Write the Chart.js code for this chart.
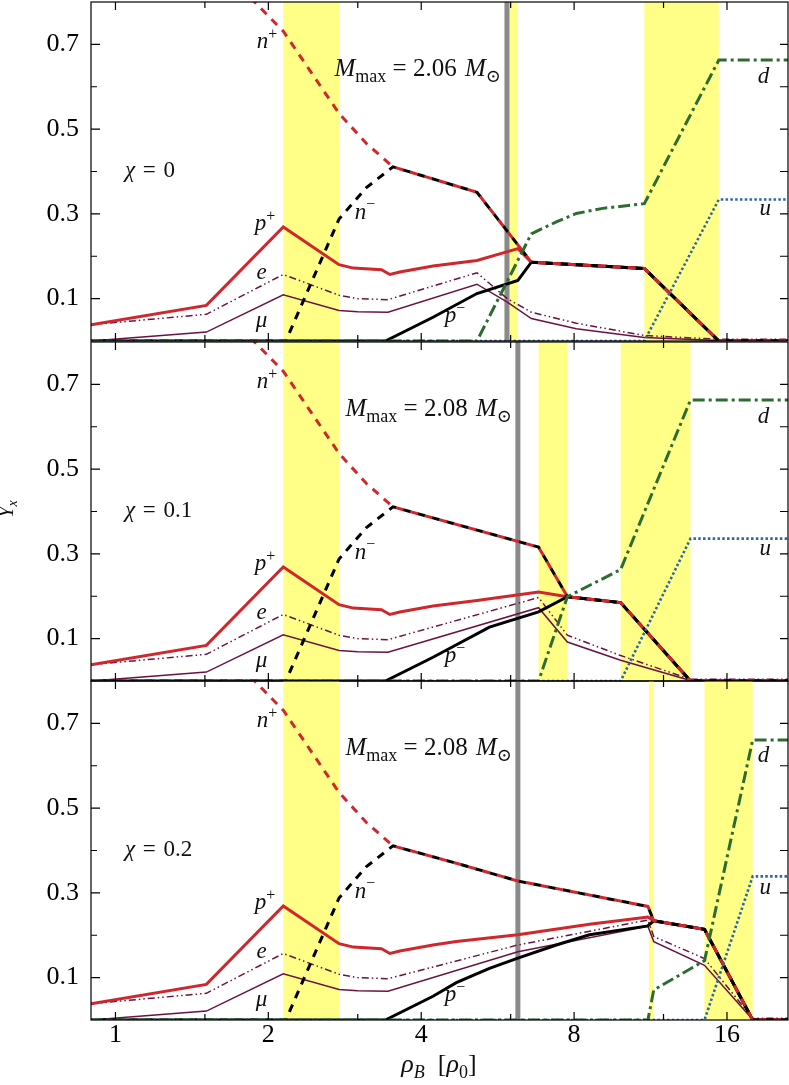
<!DOCTYPE html>
<html>
<head>
<meta charset="utf-8">
<script src="https://cdn.jsdelivr.net/npm/chart.js@4"></script>
<style>
  html, body { margin: 0; padding: 0; background: #fff; }
  #fig { position: relative; width: 789px; height: 1085px; overflow: hidden; }
  #fig canvas { position: absolute; left: 0; }
</style>
</head>
<body>
<div id="fig">
  <canvas id="panel0" width="789" height="344" style="top:0"></canvas>
  <canvas id="panel1" width="789" height="344" style="top:340px"></canvas>
  <canvas id="panel2" width="789" height="406" style="top:679px"></canvas>
</div>
<script>
// ---- axes ----
const rhoMin = 0.895, rhoMax = 21.1;
const xTicks = [1, 1.5, 2, 3, 4, 6, 8, 12, 16];
const xLabels = [1, 2, 4, 8, 16];
const yMin = 0, yMax = 0.8;

// ---- panel info ----
const chiValues = ['0', '0.1', '0.2'];
const mMaxValues = ['2.06', '2.08', '2.08'];
const mMaxRho = [5.90, 6.20, 6.20];
const bands0 = [[2.14, 2.756], [5.93, 6.20], [11.0, 15.42]];
const bands1 = [[2.14, 2.756], [6.81, 7.76], [9.88, 13.56]];
const bands2 = [[2.14, 2.756], [11.23, 11.48], [14.45, 17.98]];

// ---- hadronic part, same for every chi ----  [rho_B, Y_x]
const nPlusLow  = [[0.895, 0.962], [1.51, 0.916], [2.14, 0.731], [2.756, 0.537], [3.12, 0.466], [3.52, 0.411]];
const nMinusLow = [[0.895, 0], [2.165, 0], [2.756, 0.288], [3.12, 0.362], [3.52, 0.411]];
const pPlusLow  = [[0.895, 0.0385], [1.51, 0.084], [2.14, 0.269], [2.756, 0.180], [2.94, 0.172], [3.34, 0.168], [3.47, 0.157], [3.63, 0.163], [4.22, 0.177]];
const pMinusLow = [[0.895, 0], [3.40, 0], [4.22, 0.056]];
const eLow      = [[0.895, 0.0385], [1.51, 0.063], [2.14, 0.157], [2.756, 0.108], [3.0, 0.100], [3.44, 0.0975]];
const muLow     = [[0.895, 0.0], [1.51, 0.021], [2.14, 0.109], [2.756, 0.072], [3.0, 0.069], [3.44, 0.068]];

// ---- chi = 0 ----
const nTail0      = [[5.15, 0.351], [6.59, 0.186], [11.0, 0.171], [15.42, 0], [21.1, 0]];
const pPlusTail0  = [[5.15, 0.190], [6.20, 0.218], [6.59, 0.186], [11.0, 0.171], [15.42, 0], [21.1, 0]];
const pMinusTail0 = [[5.15, 0.112], [6.20, 0.143], [6.59, 0.186], [11.0, 0.171], [15.42, 0], [21.1, 0]];
const eTail0      = [[5.15, 0.161], [5.91, 0.100], [6.59, 0.068], [8.08, 0.042], [11.0, 0.013], [15.42, 0.004], [21.1, 0.004]];
const muTail0     = [[5.15, 0.134], [5.91, 0.092], [6.59, 0.053], [8.08, 0.029], [11.0, 0.008], [15.42, 0.001], [21.1, 0.001]];
const dQuark0     = [[0.895, 0], [5.15, 0], [6.59, 0.253], [7.38, 0.281], [8.08, 0.301], [9.11, 0.313], [11.0, 0.324], [15.42, 0.663], [21.1, 0.663]];
const uQuark0     = [[0.895, 0], [11.0, 0], [15.42, 0.334], [21.1, 0.334]];

// ---- chi = 0.1 ----
const nTail1      = [[6.81, 0.316], [7.76, 0.199], [9.88, 0.185], [13.56, 0], [21.1, 0]];
const pPlusTail1  = [[5.15, 0.190], [6.81, 0.210], [7.76, 0.199], [9.88, 0.185], [13.56, 0], [21.1, 0]];
const pMinusTail1 = [[5.45, 0.127], [6.81, 0.163], [7.76, 0.199], [9.88, 0.185], [13.56, 0], [21.1, 0]];
const eTail1      = [[6.81, 0.197], [7.76, 0.108], [9.88, 0.060], [13.56, 0.004], [21.1, 0.004]];
const muTail1     = [[6.81, 0.173], [7.76, 0.092], [9.88, 0.049], [13.56, 0.001], [21.1, 0.001]];
const dQuark1     = [[0.895, 0], [6.81, 0], [7.76, 0.199], [9.88, 0.263], [13.56, 0.663], [21.1, 0.663]];
const uQuark1     = [[0.895, 0], [9.88, 0], [13.56, 0.336], [21.1, 0.336]];

// ---- chi = 0.2 ----
const nTail2      = [[4.69, 0.370], [6.20, 0.328], [11.18, 0.268], [11.48, 0.234], [14.45, 0.214], [17.98, 0], [21.1, 0]];
const pPlusTail2  = [[4.69, 0.185], [6.20, 0.201], [8.58, 0.226], [11.18, 0.243], [11.48, 0.234], [14.45, 0.214], [17.98, 0], [21.1, 0]];
const pMinusTail2 = [[4.69, 0.088], [5.45, 0.122], [6.20, 0.146], [7.38, 0.177], [8.58, 0.201], [11.18, 0.222], [11.48, 0.234], [14.45, 0.214], [17.98, 0], [21.1, 0]];
const eTail2      = [[6.20, 0.177], [11.18, 0.236], [11.48, 0.197], [14.45, 0.145], [17.98, 0.004], [21.1, 0.004]];
const muTail2     = [[6.20, 0.161], [11.18, 0.221], [11.48, 0.185], [14.45, 0.129], [17.98, 0.001], [21.1, 0.001]];
const dQuark2     = [[0.895, 0], [11.18, 0], [11.48, 0.071], [14.45, 0.140], [17.98, 0.661], [21.1, 0.661]];
const uQuark2     = [[0.895, 0], [14.45, 0], [17.98, 0.339], [21.1, 0.339]];

const tails = [
  { n: nTail0, pp: pPlusTail0, pm: pMinusTail0, e: eTail0, mu: muTail0, d: dQuark0, u: uQuark0 },
  { n: nTail1, pp: pPlusTail1, pm: pMinusTail1, e: eTail1, mu: muTail1, d: dQuark1, u: uQuark1 },
  { n: nTail2, pp: pPlusTail2, pm: pMinusTail2, e: eTail2, mu: muTail2, d: dQuark2, u: uQuark2 }
];
const bands = [bands0, bands1, bands2];

// ---- styling ----
const FONT = '"Liberation Serif", "DejaVu Serif", serif';
const RED = '#d0272c', PURPLE = '#6b1243', GREEN = '#2d6c2f', BLUE = '#2c67a8';
const BAND = '#ffff88', MMAX_LINE = '#8a8a8a';

// curve labels: [parts, rho, Y] (left end, baseline)
const curveLabels = [
  [[['n', 'i'], ['+', 'r', 'sup']], 1.898, 0.691],
  [[['n', 'i'], ['\u2212', 'r', 'sup']], 2.96, 0.289],
  [[['p', 'i'], ['+', 'r', 'sup']], 1.88, 0.261],
  [[['e', 'i']], 1.895, 0.147],
  [[['\u03bc', 'i']], 1.89, 0.033],
  [[['p', 'i'], ['\u2212', 'r', 'sup']], 4.45, 0.045],
  [[['d', 'i']], 18.4, 0.608],
  [[['u', 'i']], 18.54, 0.297]
];

function drawMath(ctx, parts, x, y, size, align) {
  const fontOf = p => (p[1] === 'i' ? 'italic ' : '') + Math.round(p[2] ? size * 0.7 : size) + 'px ' + FONT;
  let w = 0;
  parts.forEach(p => { ctx.font = fontOf(p); w += ctx.measureText(p[0]).width; });
  let cx = align === 'right' ? x - w : align === 'center' ? x - w / 2 : x;
  ctx.textAlign = 'left';
  ctx.textBaseline = 'alphabetic';
  parts.forEach(p => {
    ctx.font = fontOf(p);
    const dy = p[2] === 'sub' ? size * 0.22 : p[2] === 'sup' ? -size * 0.4 : 0;
    ctx.fillText(p[0], cx, y + dy);
    cx += ctx.measureText(p[0]).width;
  });
}

function decor(i) {
  return {
    id: 'decor' + i,
    beforeDatasetsDraw(chart) {
      const { ctx, chartArea: a, scales: { x } } = chart;
      ctx.save();
      ctx.fillStyle = BAND;
      bands[i].forEach(([lo, hi]) => {
        const x0 = x.getPixelForValue(lo), x1 = x.getPixelForValue(hi);
        ctx.fillRect(x0, a.top, x1 - x0, a.bottom - a.top);
      });
      const gx = x.getPixelForValue(mMaxRho[i]);
      ctx.strokeStyle = MMAX_LINE;
      ctx.lineWidth = 5;
      ctx.beginPath(); ctx.moveTo(gx, a.top); ctx.lineTo(gx, a.bottom); ctx.stroke();
      ctx.restore();
    },
    afterDraw(chart) {
      const { ctx, chartArea: a, scales: { x, y } } = chart;
      ctx.save();
      // frame
      ctx.strokeStyle = '#000';
      ctx.lineWidth = 1.2;
      ctx.strokeRect(a.left, a.top, a.right - a.left, a.bottom - a.top);
      // inward ticks
      ctx.beginPath();
      xTicks.forEach(v => {
        const px = x.getPixelForValue(v), len = xLabels.includes(v) ? 8 : 6;
        ctx.moveTo(px, a.bottom); ctx.lineTo(px, a.bottom - len);
        ctx.moveTo(px, a.top); ctx.lineTo(px, a.top + len);
      });
      for (let k = 1; k < 8; k++) {
        const py = y.getPixelForValue(k / 10), len = k % 2 ? 9 : 6;
        ctx.moveTo(a.left, py); ctx.lineTo(a.left + len, py);
        ctx.moveTo(a.right, py); ctx.lineTo(a.right - 8, py);
      }
      ctx.stroke();
      // labels
      ctx.fillStyle = '#111';
      curveLabels.forEach(([parts, rx, ry]) => {
        drawMath(ctx, parts, x.getPixelForValue(rx), y.getPixelForValue(ry), 23, 'left');
      });
      drawMath(ctx, [['\u03c7', 'i'], ['\u2004=\u2004' + chiValues[i], 'r']],
        x.getPixelForValue(1.044), y.getPixelForValue(0.387), 23, 'left');
      drawMath(ctx, [['M', 'i'], ['max', 'r', 'sub'], ['\u2005=\u2005' + mMaxValues[i] + '\u2004', 'r'], ['M', 'i'], ['\u2299', 'r', 'sub']],
        x.getPixelForValue(mMaxRho[i]) - 6, y.getPixelForValue(0.625), 25, 'right');
      // axis titles
      if (i === 1) {
        ctx.translate(13, 169);
        ctx.rotate(-Math.PI / 2);
        drawMath(ctx, [['Y', 'i'], ['x', 'i', 'sub']], 0, 0, 20, 'center');
        ctx.setTransform(1, 0, 0, 1, 0, 0);
      }
      if (i === 2) {
        drawMath(ctx, [['\u03c1', 'i'], ['B', 'i', 'sub'], ['\u2002[', 'r'], ['\u03c1', 'i'], ['0', 'r', 'sub'], [']', 'r']],
          439, 393, 26, 'center');
      }
      ctx.restore();
    }
  };
}

function series(points, color, width, dash, dashOffset) {
  return {
    data: points.map(([x, y]) => ({ x, y })),
    borderColor: color, borderWidth: width, borderDash: dash || [],
    borderDashOffset: dashOffset || 0,
    pointRadius: 0, fill: false, tension: 0
  };
}

function makePanel(i) {
  const t = tails[i];
  const bottom = i === 2;
  const nPlus = nPlusLow.concat(t.n);
  const nMinus = nMinusLow.concat(t.n);
  return new Chart(document.getElementById('panel' + i), {
    type: 'line',
    data: {
      // first dataset is drawn on top
      datasets: [
        series(t.d, GREEN, 3, [12, 4, 3, 4]),
        series(t.u, BLUE, 2.6, [2.5, 2.3]),
        series(nPlus, RED, 3, [8, 7]),
        series(nMinus, '#000', 3, [8, 7], 6.3),
        series(pMinusLow.concat(t.pm), '#000', 3),
        series(pPlusLow.concat(t.pp), RED, 3),
        series(eLow.concat(t.e), PURPLE, 1.5, [7, 3, 1.5, 3, 1.5, 3]),
        series(muLow.concat(t.mu), PURPLE, 1.5)
      ]
    },
    options: {
      responsive: false,
      animation: false,
      devicePixelRatio: 1,
      layout: { padding: { top: 2, right: 1, left: 0, bottom: bottom ? 0 : 3 } },
      plugins: { legend: { display: false }, tooltip: { enabled: false } },
      scales: {
        x: {
          type: 'logarithmic', min: rhoMin, max: rhoMax, display: bottom,
          afterBuildTicks: s => { s.ticks = xTicks.map(v => ({ value: v })); },
          afterFit: s => { s.height = bottom ? 65 : 0; },
          grid: { display: false, drawTicks: false },
          border: { display: false },
          ticks: {
            autoSkip: false, maxRotation: 0, padding: 0, color: '#000',
            font: { family: FONT, size: 26 },
            callback: v => xLabels.includes(v) ? String(v) : ''
          }
        },
        y: {
          min: yMin, max: yMax,
          afterFit: s => { s.width = 91; s.paddingTop = 0; s.paddingBottom = 0; },
          grid: { display: false, drawTicks: false },
          border: { display: false },
          ticks: {
            stepSize: 0.1, padding: 12, color: '#000', autoSkip: false,
            font: { family: FONT, size: 26 },
            callback: v => (Math.round(v * 10) % 2 === 1 ? v.toFixed(1) : '')
          }
        }
      }
    },
    plugins: [decor(i)]
  });
}

[0, 1, 2].forEach(makePanel);
</script>
</body>
</html>
